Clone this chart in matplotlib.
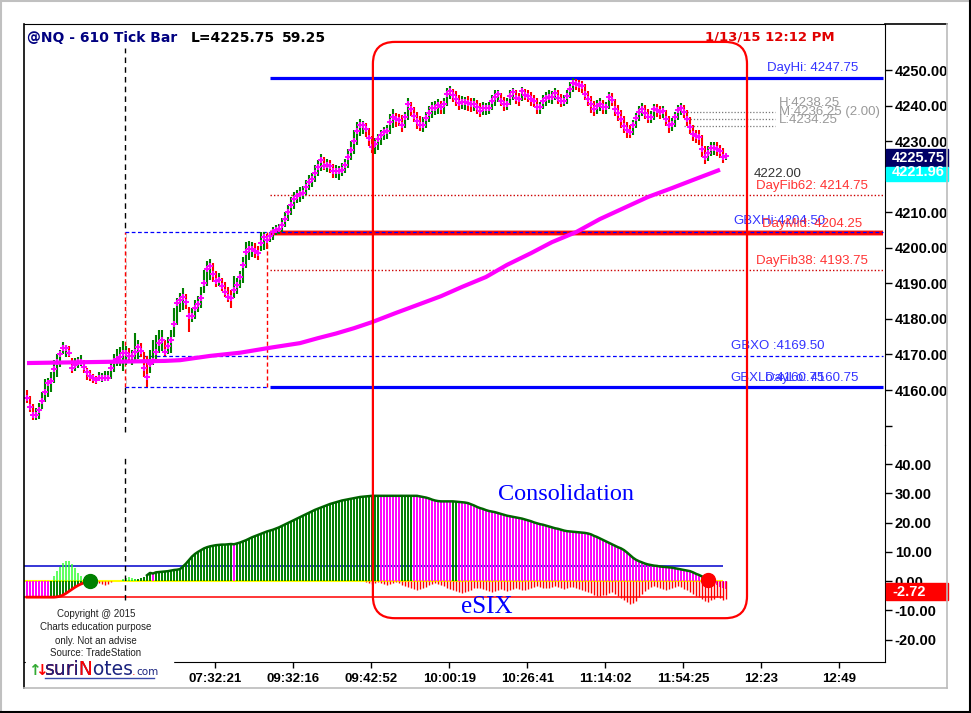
import matplotlib
matplotlib.use("Agg")
import matplotlib.pyplot as plt
from matplotlib.patches import Rectangle, FancyBboxPatch
from matplotlib.lines import Line2D
from matplotlib.transforms import IdentityTransform, blended_transform_factory

plt.rcParams["font.family"] = ["Liberation Sans", "DejaVu Sans"]

W, H = 971, 713

# ---- 610 tick bars: close / high / low ----
closes = [
    4157.75, 4155.25, 4153.0, 4153.0, 4154.5, 4157.0, 4159.5, 4162.0, 4162.5, 4166.0,
    4168.0, 4170.0, 4171.75, 4171.75, 4170.5, 4166.25, 4167.0, 4168.0, 4168.0, 4166.5,
    4165.0, 4164.0, 4163.5, 4162.75, 4163.5, 4163.5, 4163.5, 4163.5, 4166.25, 4168.25,
    4168.75, 4169.25, 4170.5, 4170.5, 4169.5, 4169.5, 4170.75, 4172.0, 4171.0, 4166.25,
    4163.75, 4167.25, 4168.25, 4170.75, 4173.25, 4174.0, 4170.75, 4172.5, 4174.0, 4178.5,
    4184.5, 4185.25, 4186.25, 4184.75, 4180.75, 4180.75, 4183.0, 4184.25, 4186.0, 4190.0,
    4194.0, 4195.0, 4192.5, 4190.75, 4191.0, 4189.25, 4187.5, 4186.25, 4186.0, 4188.0,
    4189.5, 4191.75, 4195.25, 4198.75, 4199.75, 4199.75, 4199.0, 4198.5, 4201.25, 4203.0,
    4202.25, 4203.25, 4204.5, 4205.0, 4205.25, 4206.5, 4208.0, 4210.0, 4212.0, 4213.75,
    4214.5, 4215.0, 4215.5, 4217.0, 4218.5, 4219.25, 4221.0, 4222.75, 4224.75, 4223.0,
    4223.25, 4223.0, 4221.5, 4221.5, 4221.5, 4222.0, 4223.25, 4225.5, 4227.5, 4230.0,
    4232.75, 4234.5, 4234.5, 4233.5, 4231.0, 4228.25, 4229.25, 4230.5, 4231.75, 4232.5,
    4232.75, 4235.5, 4236.75, 4236.25, 4236.0, 4234.5, 4236.75, 4240.5, 4239.0, 4237.0,
    4235.75, 4234.5, 4234.5, 4236.5, 4238.0, 4239.25, 4239.25, 4240.25, 4239.5, 4240.5,
    4243.25, 4244.0, 4243.0, 4241.75, 4240.75, 4241.0, 4241.0, 4240.75, 4240.5, 4240.5,
    4239.5, 4238.5, 4239.25, 4239.25, 4239.25, 4241.25, 4242.5, 4243.25, 4241.25, 4240.5,
    4240.5, 4242.75, 4243.75, 4242.0, 4241.75, 4244.0, 4243.0, 4242.75, 4241.75, 4241.25,
    4239.5, 4239.5, 4241.25, 4242.0, 4242.5, 4242.5, 4243.5, 4242.0, 4241.25, 4241.25,
    4242.75, 4244.75, 4246.25, 4246.0, 4245.75, 4245.5, 4243.25, 4241.75, 4240.5, 4239.0,
    4239.75, 4240.5, 4239.5, 4239.5, 4242.5, 4241.5, 4239.0, 4238.0, 4236.25, 4234.25,
    4233.0, 4232.5, 4234.5, 4236.5, 4238.25, 4239.0, 4238.0, 4236.75, 4236.75, 4239.0,
    4238.75, 4238.25, 4238.5, 4236.25, 4234.5, 4234.75, 4236.75, 4238.75, 4239.25, 4238.25,
    4236.25, 4234.0, 4232.0, 4231.5, 4231.25, 4227.75, 4225.5, 4226.75, 4228.0, 4228.0,
    4227.75, 4227.25, 4225.5, 4225.75,
]
highs = [
    4160.0, 4158.25, 4156.0, 4155.0, 4156.25, 4159.5, 4163.25, 4163.5, 4165.0, 4168.5,
    4170.0, 4171.25, 4173.5, 4172.75, 4172.5, 4169.0, 4169.0, 4169.25, 4169.75, 4168.5,
    4166.25, 4165.75, 4164.5, 4164.0, 4165.0, 4164.75, 4165.5, 4165.25, 4168.25, 4170.0,
    4171.5, 4172.0, 4173.75, 4172.5, 4171.75, 4171.25, 4176.0, 4174.0, 4173.25, 4170.75,
    4169.5, 4171.25, 4174.0, 4175.5, 4177.0, 4176.75, 4174.0, 4175.0, 4177.0, 4183.0,
    4186.0, 4187.25, 4188.75, 4187.0, 4183.25, 4183.0, 4185.25, 4186.5, 4189.0, 4193.75,
    4196.25, 4196.75, 4195.75, 4193.5, 4193.0, 4191.5, 4190.25, 4189.0, 4188.0, 4192.0,
    4191.5, 4193.5, 4197.5, 4201.5, 4202.0, 4201.5, 4201.25, 4200.5, 4204.5, 4204.5,
    4203.75, 4204.25, 4205.75, 4206.5, 4206.75, 4208.25, 4210.0, 4212.0, 4214.25, 4215.75,
    4216.25, 4217.0, 4217.5, 4219.0, 4220.5, 4221.0, 4223.25, 4224.75, 4226.25, 4225.5,
    4225.0, 4224.75, 4223.5, 4223.25, 4223.0, 4223.75, 4225.0, 4227.75, 4230.0, 4233.0,
    4235.25, 4236.25, 4235.75, 4235.0, 4233.75, 4231.5, 4231.0, 4232.0, 4233.25, 4234.0,
    4234.5, 4237.75, 4239.0, 4238.0, 4237.75, 4237.25, 4238.25, 4242.0, 4241.0, 4239.5,
    4238.25, 4237.0, 4236.75, 4238.25, 4239.75, 4241.0, 4241.25, 4241.75, 4241.25, 4242.0,
    4245.0, 4245.5, 4244.75, 4244.0, 4243.0, 4242.75, 4242.5, 4242.75, 4242.25, 4242.0,
    4241.5, 4240.75, 4241.0, 4240.75, 4241.0, 4243.0, 4244.25, 4244.5, 4243.5, 4242.5,
    4242.25, 4244.25, 4245.0, 4244.25, 4243.5, 4245.25, 4244.75, 4244.5, 4243.75, 4243.0,
    4242.0, 4241.0, 4243.0, 4243.75, 4244.25, 4244.0, 4245.0, 4244.25, 4243.25, 4243.0,
    4244.25, 4246.5, 4247.75, 4247.5, 4247.25, 4247.0, 4246.0, 4244.0, 4242.75, 4241.25,
    4241.5, 4242.0, 4241.5, 4241.0, 4243.75, 4243.5, 4241.75, 4240.25, 4238.75, 4237.0,
    4235.5, 4234.5, 4236.0, 4238.0, 4240.0, 4240.75, 4240.25, 4239.0, 4238.5, 4240.5,
    4240.5, 4240.0, 4240.0, 4238.75, 4237.0, 4236.5, 4238.25, 4240.25, 4240.75, 4240.25,
    4238.75, 4236.75, 4234.5, 4233.25, 4233.0, 4231.75, 4228.5, 4228.75, 4229.75, 4229.75,
    4229.75, 4229.0, 4228.0, 4226.5,
]
lows = [
    4156.25, 4153.75, 4151.5, 4151.5, 4152.0, 4154.75, 4156.75, 4158.0, 4159.5, 4162.0,
    4163.75, 4166.5, 4170.0, 4169.25, 4169.25, 4164.75, 4165.25, 4166.25, 4166.75, 4164.75,
    4162.75, 4162.5, 4162.0, 4161.75, 4162.5, 4162.25, 4162.5, 4162.5, 4163.25, 4165.0,
    4166.75, 4166.75, 4165.5, 4167.0, 4167.5, 4167.0, 4168.5, 4168.75, 4169.25, 4163.75,
    4160.75, 4164.75, 4167.0, 4168.0, 4170.5, 4171.0, 4169.5, 4170.0, 4170.5, 4175.0,
    4178.25, 4182.0, 4182.5, 4182.75, 4176.25, 4179.0, 4180.0, 4182.0, 4183.0, 4187.25,
    4189.25, 4191.0, 4190.5, 4189.0, 4189.25, 4187.75, 4186.25, 4184.75, 4183.0, 4186.0,
    4187.0, 4188.75, 4190.0, 4194.25, 4196.5, 4197.5, 4197.25, 4196.5, 4199.0, 4199.5,
    4199.75, 4201.5, 4202.25, 4203.5, 4203.75, 4204.5, 4205.75, 4207.5, 4209.25, 4211.0,
    4212.5, 4213.0, 4213.75, 4214.75, 4216.25, 4217.0, 4218.5, 4220.25, 4221.5, 4221.75,
    4221.25, 4221.0, 4219.75, 4219.5, 4219.0, 4220.25, 4221.0, 4222.5, 4224.75, 4226.5,
    4229.0, 4231.5, 4232.0, 4231.25, 4228.5, 4226.75, 4226.5, 4227.5, 4229.0, 4230.25,
    4230.5, 4232.0, 4233.75, 4234.0, 4234.25, 4232.5, 4233.75, 4236.0, 4237.0, 4235.5,
    4233.5, 4232.75, 4232.5, 4233.75, 4235.5, 4236.5, 4237.25, 4237.5, 4237.5, 4237.75,
    4240.0, 4241.75, 4241.0, 4240.0, 4238.75, 4239.0, 4238.75, 4238.5, 4238.25, 4238.5,
    4237.75, 4236.75, 4237.25, 4237.25, 4237.5, 4238.75, 4240.0, 4241.0, 4239.75, 4238.5,
    4238.75, 4240.25, 4241.5, 4240.5, 4240.0, 4241.25, 4241.5, 4241.0, 4240.0, 4239.5,
    4237.75, 4237.75, 4239.0, 4240.0, 4240.75, 4240.5, 4241.5, 4240.5, 4239.5, 4239.75,
    4240.5, 4242.0, 4243.75, 4244.25, 4243.75, 4243.5, 4241.5, 4239.75, 4238.0, 4237.0,
    4237.5, 4238.5, 4237.5, 4237.75, 4239.0, 4239.75, 4237.0, 4235.75, 4233.75, 4232.25,
    4231.0, 4230.75, 4231.75, 4233.75, 4235.75, 4237.0, 4236.25, 4235.0, 4235.0, 4236.0,
    4236.75, 4236.25, 4236.5, 4234.25, 4232.25, 4232.75, 4234.0, 4236.0, 4237.25, 4236.5,
    4234.25, 4232.0, 4230.0, 4229.5, 4229.0, 4225.5, 4223.5, 4224.5, 4225.75, 4226.0,
    4225.75, 4225.25, 4223.75, 4224.75,
]

# moving average (magenta), read at these bars
ma_bars = [0, 24, 46, 51, 61, 71, 81, 91, 97, 103, 109, 115, 123, 131, 138, 145,
           153, 160, 168, 175, 183, 191, 199, 207, 215, 223, 231]
ma_vals = [4167.6, 4167.9, 4168.2, 4168.4, 4169.6, 4170.5, 4171.9, 4173.2, 4174.6,
           4175.9, 4177.4, 4179.1, 4181.7, 4184.2, 4186.4, 4189.0, 4191.8, 4195.2,
           4198.5, 4201.6, 4204.4, 4208.1, 4211.2, 4214.3, 4216.8, 4219.4, 4221.96]

# levels
day_hi, day_mid, day_lo = 4247.75, 4204.25, 4160.75
fib62, fib38 = 4214.75, 4193.75
gbx_hi, gbx_open, gbx_lo = 4204.50, 4169.50, 4160.75
hml_vals = [4238.25, 4236.25, 4234.25]
last_price, last_ma, last_esix = 4225.75, 4221.96, -2.72
day_start, gbx_start, hml_start = 81, 32.8, 219

# ---- eSIX lower panel ----
esix = (
    [-5.5] * 8 + [-5.5, -5.5, -5.4]
    + [-5.2, -4.8, -4.2, -3.5, -2.8, -2.1, -1.5, -1.0, -0.6, -0.3, 0.0]
    + [0, 0, 0, 0, 0, 0, 0, 0, 0.1, 0.2, 0.3, 0.3, 0.4, 0.5, 0.6, 0.8, 1.0, 1.3]
    + [2.0, 2.8, 2.6, 3.0, 3.1, 3.2, 3.3, 3.4, 3.6, 3.8, 3.9, 4.1, 5.0, 6.0, 7.2, 8.4,
       9.3, 10.0, 10.6, 11.2, 11.6, 11.9, 12.1, 12.3, 12.4, 12.5, 12.5, 12.6, 12.7, 12.6,
       12.9, 13.2, 13.6, 14.0, 14.5, 15.0]
    + [15.4, 15.8, 16.2, 16.6, 17.0, 17.3, 17.6, 18.0, 18.4, 18.9, 19.4, 19.9, 20.4,
       20.9, 21.4, 21.9, 22.4, 22.9, 23.4, 23.9, 24.4, 24.8, 25.2, 25.6, 26.0, 26.4,
       26.7, 27.0, 27.3, 27.6, 27.8, 28.0, 28.2, 28.4, 28.6, 28.8, 28.9, 29.0, 29.1]
    + [29.2] * 16
    + [29.0, 28.8, 28.6, 28.3, 27.9, 27.6, 27.4, 27.3, 27.3, 27.3, 27.3, 27.3, 27.2,
       27.1, 27.0, 26.9, 26.7, 26.3, 25.9, 25.4, 25.0, 24.7, 24.3, 24.0, 23.8, 23.6,
       23.3, 23.0, 22.7, 22.4, 22.2, 22.0, 21.8, 21.6, 21.4, 21.1, 20.8, 20.5, 20.1,
       19.8, 19.5, 19.3, 19.0, 18.7, 18.4, 18.1, 17.9, 17.6, 17.3, 17.1, 17.0, 16.9,
       16.8, 16.7, 16.6, 16.5, 16.3, 16.0, 15.5, 15.1, 14.6, 14.1, 13.6, 13.1, 12.6,
       12.1, 11.6, 11.2, 10.6, 9.8, 8.9, 8.0, 7.3, 6.8, 6.4, 6.0, 5.7, 5.5, 5.3, 5.2,
       5.0, 4.9, 4.8, 4.7, 4.6, 4.4, 4.2, 4.0, 3.8, 3.6, 3.4, 3.0, 2.5, 2.1, 1.6, 1.0,
       0.4, -0.3, -0.9, -1.5, -2.1, -2.5, -2.72]
)
esix_runs = [("m", 8), ("g", 34), ("m", 1), ("g", 26), ("m", 1), ("g", 48),
             ("m", 7), ("g", 4), ("m", 13), ("g", 2), ("m", 90)]

# red negative bars (two stretches)
red_a_start = 24
red_a = [0.6, 1.0, 1.4, 0.9, 0.4]
red_b_start = 113
red_b = [0.3, 0.6, 0.9, 0.6, 0.3, 0.5, 0.9, 1.3, 1.0, 0.6, 0.4, 0.8,
         1.2, 1.6, 2.0, 2.4, 2.8, 3.0, 2.8, 2.4, 2.0, 1.5, 1.0,
         0.6, 0.9, 1.3, 1.8, 2.2, 2.6, 3.0, 3.4, 3.8, 4.0, 3.7, 3.3, 2.9, 2.5,
         2.2, 2.5, 2.8, 3.1, 3.4, 3.6, 3.3, 3.0, 2.8, 3.1, 3.3, 3.0, 2.7, 2.5, 2.8, 3.1,
         2.9, 2.6, 2.3, 2.0, 1.8, 2.0, 2.3, 2.5, 2.2, 1.9,
         1.7, 2.0, 2.3, 2.6, 2.4, 2.1, 1.9, 2.2, 2.6, 3.0,
         3.4, 3.8, 4.2, 4.6, 5.0, 5.2, 4.9, 4.6, 4.2, 3.9, 4.3, 5.0,
         5.8, 6.6, 7.3, 8.0, 7.6, 6.8, 5.6,
         4.4, 3.4, 2.6, 2.0, 1.6, 1.9, 2.3, 2.7, 3.0, 2.7, 2.3, 1.9, 1.6, 2.0,
         2.6, 3.2, 3.8, 4.4, 5.0, 5.6, 6.2, 6.8, 7.0, 6.6, 6.0, 5.4, 5.8, 6.4, 6.0]

# light green bars
lime_bars = [9, 10, 11, 12, 13, 14, 15, 16, 17, 18, 19, 32, 33, 34, 35, 36]
lime_vals = [1.9, 3.3, 4.9, 6.3, 7.0, 7.0, 6.0, 4.6, 2.8, 1.6, 0.8, 0.8, 1.2, 1.5, 1.0, 0.6]

upper_band, lower_band = 5.0, -5.5
cross_up, cross_dn = 21, 227

price_ticks = [4150, 4160, 4170, 4180, 4190, 4200, 4210, 4220, 4230, 4240, 4250]
esix_ticks = [-20, -10, 0, 10, 20, 30, 40]
time_labels = ["07:32:21", "09:32:16", "09:42:52", "10:00:19", "10:26:41",
               "11:14:02", "11:54:25", "12:23", "12:49"]
time_bars = [62.8, 88.8, 114.8, 140.8, 166.8, 192.8, 218.8, 244.8, 270.8]

GREEN, RED, MAG, BLUE, NAVY = "#008000", "#ff0000", "#ff00ff", "#0000ff", "#000080"


def fx(x):
    return x / W


def fy(y):
    return 1 - y / H


fig = plt.figure(figsize=(W / 100, H / 100), dpi=100)
fig.patch.set_facecolor("white")

ax1 = fig.add_axes([fx(24), fy(445), 861 / W, 421 / H])
ax2 = fig.add_axes([fx(24), fy(662), 861 / W, 217 / H])
for ax in (ax1, ax2):
    ax.set_xlim(-1, 286)
    ax.set_facecolor("none")
    ax.spines["left"].set_visible(False)
    ax.yaxis.tick_right()
    ax.tick_params(axis="y", direction="out", length=5, width=1, pad=2, labelsize=10.5)
ax1.set_ylim(4144.55, 4262.94)
ax2.set_ylim(-27.7, 46.6)
ax1.spines["bottom"].set_visible(False)
ax2.spines["top"].set_visible(False)
ax1.set_xticks([])

# ---------- upper panel ----------
idx = list(range(len(closes)))
bar_cols = [RED if i == 0 or closes[i] < closes[i - 1] else GREEN for i in idx]
ax1.vlines(idx, lows, highs, colors=bar_cols, lw=1.5, zorder=3)
ax1.plot(idx, closes, "+", color=MAG, ms=4.2, mew=1.4, zorder=4)
ax1.plot(ma_bars, ma_vals, color=MAG, lw=3, solid_capstyle="butt",
         solid_joinstyle="round", zorder=3)

xr = 285.3
ax1.hlines(day_hi, day_start, xr, colors=BLUE, lw=2.3, zorder=2)
ax1.hlines(day_lo, day_start, xr, colors=BLUE, lw=2.3, zorder=2)
ax1.hlines(day_mid, day_start, xr, colors="#ff8c8c", lw=4.2, zorder=2)
ax1.hlines(day_mid, day_start, xr, colors=RED, lw=2.8, zorder=2)
ax1.hlines([fib62, fib38], day_start, xr, colors="#cc0000", lw=1, linestyles=(0, (1, 1.5)), zorder=2)
ax1.hlines([gbx_hi, gbx_open], gbx_start, xr, colors=BLUE, lw=0.9, linestyles=(0, (3, 2)), zorder=2.5)
ax1.hlines(gbx_lo, gbx_start, day_start - 1, colors=BLUE, lw=0.9, linestyles=(0, (3, 2)), zorder=2.5)
ax1.hlines(hml_vals, hml_start, 249.3, colors="#777777", lw=0.9, linestyles=(0, (1, 1.5)), zorder=2)
ax1.vlines(gbx_start, 4148.2, 4256.2, colors="black", lw=1, linestyles=(0, (4, 3)), zorder=2)
ax1.vlines([gbx_start, day_start - 1], gbx_lo, gbx_hi, colors="white", lw=1.5, zorder=2.1)
ax1.vlines([gbx_start, day_start - 1], gbx_lo, gbx_hi, colors=RED, lw=1, linestyles=(0, (3, 2)), zorder=2.2)

lab = dict(fontsize=9.5, va="center", ha="left", zorder=5)
ax1.text((767 - 27) / 3, day_hi + 2.8, f"DayHi: {day_hi:.2f}", color="#3333ff", **lab)
ax1.text((779 - 27) / 3, hml_vals[0] + 2.5, f"H:{hml_vals[0]:.2f}", color="#999999", **lab)
ax1.text((779 - 27) / 3, hml_vals[1] + 2.0, f"M:{hml_vals[1]:.2f} (2.00)", color="#999999", **lab)
ax1.text((779 - 27) / 3, hml_vals[2] + 1.6, f"L:{hml_vals[2]:.2f}", color="#999999", **lab)
ax1.text((754 - 27) / 3, 4222.0 - 1.3, "4222.00", color="#333333", **lab)
ax1.text((756 - 27) / 3, fib62 + 2.5, f"DayFib62: {fib62:.2f}", color="#ff3333", **lab)
ax1.text((733 - 27) / 3, gbx_hi + 3.0, f"GBXHi:{gbx_hi:.2f}", color="#3333ff", **lab)
ax1.text((762 - 27) / 3, day_mid + 2.4, f"DayMid: {day_mid:.2f}", color="#ff3333", **lab)
ax1.text((756 - 27) / 3, fib38 + 2.5, f"DayFib38: {fib38:.2f}", color="#ff3333", **lab)
ax1.text((731 - 27) / 3, gbx_open + 2.8, f"GBXO :{gbx_open:.2f}", color="#3333ff", **lab)
ax1.text((730 - 27) / 3, gbx_lo + 2.6, f"GBXLo:{gbx_lo:.2f}", color="#3333ff", **lab)
ax1.text((765 - 27) / 3, day_lo + 2.6, f"DayLo: {day_lo:.2f}", color="#3333ff", **lab)

ax1.set_yticks(price_ticks, ["" if v == 4150 else f"{v:.2f}" for v in price_ticks])
for t in ax1.get_yticklabels():
    t.set_fontweight("bold")

# value boxes on the price scale
tr1 = blended_transform_factory(ax1.transAxes, ax1.transData)
bx0, bw = (886 - 24) / 861, 62 / 861
ax1.add_patch(Rectangle((bx0, 4222.72), bw, 5.06, transform=tr1, color="#000066", clip_on=False, zorder=6))
ax1.add_patch(Rectangle((bx0, 4218.78), bw, 3.94, transform=tr1, color="#00ffff", clip_on=False, zorder=6))
ax1.text((892 - 24) / 861, 4225.3, f"{last_price:.2f}", transform=tr1, color="white",
         fontsize=10.5, fontweight="bold", va="center", ha="left", clip_on=False, zorder=7)
ax1.text((892 - 24) / 861, 4221.2, f"{last_ma:.2f}", transform=tr1, color="white",
         fontsize=10.5, fontweight="bold", va="center", ha="left", clip_on=False, zorder=7)

# ---------- lower panel ----------
cols = []
for c, n in esix_runs:
    cols += [GREEN if c == "g" else MAG] * n
eidx = list(range(len(esix)))
ax2.hlines(0, -1, 232, colors="#ffff00", lw=1.5, zorder=1)
ax2.hlines(upper_band, -1, 232, colors="#0000cc", lw=1.1, zorder=1)
ax2.hlines(lower_band, -1, 232, colors=RED, lw=1.1, zorder=1)
ax2.vlines(eidx, 0, esix, colors=cols, lw=1.4, zorder=2)
ax2.vlines(lime_bars, 0, lime_vals, colors="#33ff33", lw=1.1, zorder=2)
ax2.vlines(range(red_a_start, red_a_start + len(red_a)), 0, [-v for v in red_a], colors=RED, lw=1, zorder=2.2)
ax2.vlines(range(red_b_start, red_b_start + len(red_b)), 0, [-v for v in red_b], colors=RED, lw=1, zorder=2.2)
ax2.plot(eidx[40:cross_dn + 1], esix[40:cross_dn + 1], color="#006400", lw=1.8, zorder=3)
ax2.plot(eidx[:cross_up + 1], esix[:cross_up + 1], color=RED, lw=2, zorder=3)
ax2.plot([cross_up], [0], "o", color=GREEN, ms=10, zorder=4)
ax2.plot([cross_dn], [esix[cross_dn]], "o", color=RED, ms=10, zorder=4)
ax2.vlines(gbx_start, -6.5, 43.1, colors="black", lw=1, linestyles=(0, (4, 3)), zorder=2.5)

ax2.text((566 - 27) / 3, 29.8, "Consolidation", color=BLUE, fontsize=17.5,
         family="Liberation Serif", ha="center", va="center", zorder=5)
ax2.text((487 - 27) / 3, -8.9, "eSIX", color=BLUE, fontsize=18,
         family="Liberation Serif", ha="center", va="center", zorder=5)

ax2.set_yticks(esix_ticks, [f"{v:.2f}" for v in esix_ticks])
for t in ax2.get_yticklabels():
    t.set_fontweight("bold")
ax2.set_xticks(time_bars, time_labels)
ax2.tick_params(axis="x", direction="out", length=4, width=1, pad=4, labelsize=9.5)
for t in ax2.get_xticklabels():
    t.set_fontweight("bold")

tr2 = blended_transform_factory(ax2.transAxes, ax2.transData)
ax2.add_patch(Rectangle((bx0, -6.5), bw, 5.8, transform=tr2, color=RED, clip_on=False, zorder=6))
ax2.text((892 - 24) / 861, -3.6, f"{last_esix:.2f}", transform=tr2, color="white",
         fontsize=10.5, fontweight="bold", va="center", ha="left", clip_on=False, zorder=7)

# ---------- frame, box, texts ----------
def fline(x0, y0, x1, y1, color, lw):
    fig.add_artist(Line2D([fx(x0), fx(x1)], [fy(y0), fy(y1)], color=color, lw=lw,
                          transform=fig.transFigure, zorder=8))

fline(24, 24, 24, 688, "black", 1.2)
fline(885, 24, 947, 24, "black", 1.2)
fline(947, 24, 947, 688, "#bbbbbb", 1.2)
fline(24, 688, 947, 688, "#bbbbbb", 1.2)
fline(1, 0, 1, 713, "#c0c0c0", 1.5)
fline(0, 1, 971, 1, "#c0c0c0", 1.5)
fline(969.5, 0, 969.5, 713, "black", 1.5)
fline(0, 711.5, 971, 711.5, "black", 1.5)

# consolidation box spanning both panels
fig.canvas.draw()
xa = ax1.transData.transform((115.3, 4257.9))
xb = ax2.transData.transform((240.0, -12.7))
fig.add_artist(FancyBboxPatch((xa[0], xb[1]), xb[0] - xa[0], xa[1] - xb[1],
                              boxstyle="round,pad=0,rounding_size=22",
                              transform=IdentityTransform(), fill=False,
                              ec=RED, lw=1.6, zorder=6))

# title
fig.text(fx(27), fy(38), "@NQ - 610 Tick Bar", color=NAVY, fontsize=10,
         family="DejaVu Sans", fontweight="bold", va="center", ha="left")
fig.text(fx(191), fy(38), "L=4225.75", color="black", fontsize=10,
         family="DejaVu Sans", fontweight="bold", va="center", ha="left")
fig.text(fx(282), fy(38), "59.25", color="black", fontsize=10,
         family="DejaVu Sans", fontweight="bold", va="center", ha="left")
fig.text(fx(705), fy(37), "1/13/15 12:12 PM", color="#e00000", fontsize=9.5,
         family="DejaVu Sans", fontweight="bold", va="center", ha="left")

# copyright block
fig.add_artist(Rectangle((fx(25.5), fy(687)), (173 - 25.5) / W, 85 / H, color="white",
                         transform=fig.transFigure, zorder=5))
for yy, s in zip([614, 627.5, 640.5, 653.5],
                 ["Copyright @ 2015", "Charts education purpose",
                  "only. Not an advise", "Source: TradeStation"]):
    fig.text(fx(96), fy(yy), s, fontsize=7, color="#222222", ha="center", va="center", zorder=6)

renderer = fig.canvas.get_renderer()
fig.text(fx(28), fy(675), "\u2191", color="#33aa33", fontsize=11, family="DejaVu Sans",
         fontweight="bold", va="baseline", ha="left", zorder=6)
fig.text(fx(35), fy(675), "\u2193", color=RED, fontsize=11, family="DejaVu Sans",
         fontweight="bold", va="baseline", ha="left", zorder=6)
logo = dict(fontsize=13.5, family="DejaVu Sans", va="baseline", ha="left")
# full word, then red "suriN" and navy "suri" stacked so only the N turns red
t_full = fig.text(fx(45), fy(675), "suriNotes", color="#1a237e", zorder=6, **logo)
fig.text(fx(45), fy(675), "suriN", color=RED, zorder=6.1, **logo)
fig.text(fx(45), fy(675), "suri", color="#1a237e", zorder=6.2, **logo)
x_end = t_full.get_window_extent(renderer).x1
fig.text((x_end - 2) / W, fy(675), ".", color=RED, fontsize=8, family="DejaVu Sans",
         va="baseline", ha="left", zorder=6)
fig.text((x_end + 2) / W, fy(675), "com", color="#1a237e", fontsize=7.5,
         family="DejaVu Sans", va="baseline", ha="left", zorder=6)
fline(45, 678, x_end + 20, 678, "#3949ab", 1)

fig.savefig("out.png", dpi=100)
